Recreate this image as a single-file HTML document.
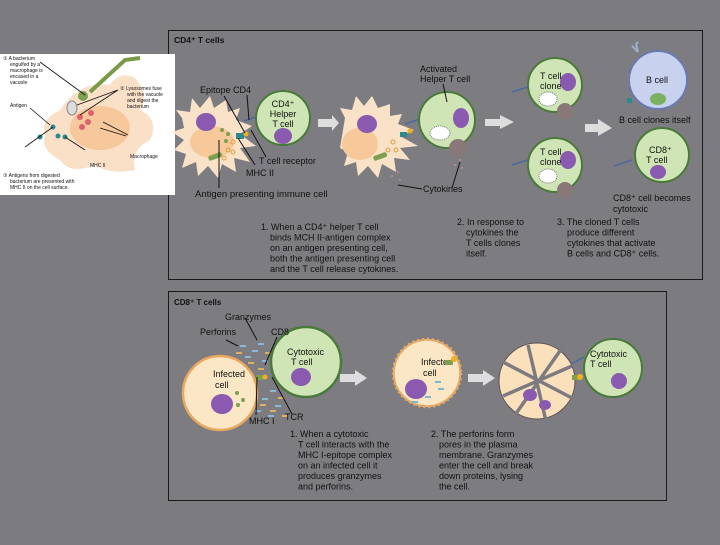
<!DOCTYPE html>
<html><head><meta charset="utf-8"><style>
body{margin:0;width:720px;height:540px;background:#7c7b80;overflow:hidden}
text{font-family:"Liberation Sans",sans-serif;fill:#111}
</style></head><body>
<svg width="720" height="540" viewBox="0 0 720 540" xmlns="http://www.w3.org/2000/svg">
<rect width="720" height="540" fill="#7c7b80"/>
<!-- panels -->
<rect x="168.5" y="30.5" width="534" height="249" fill="#7d7c81" stroke="#1a1a1a" stroke-width="1"/>
<rect x="168.5" y="291.5" width="498" height="209" fill="#7d7c81" stroke="#1a1a1a" stroke-width="1"/>
<text x="174" y="43" font-size="8.5" font-weight="bold">CD4⁺ T cells</text>
<text x="174" y="305" font-size="8" font-weight="bold">CD8⁺ T cells</text>

<!-- inset -->
<rect x="0" y="54" width="175" height="141" fill="#fff"/>
<path d="M60 110 Q80 80 110 85 Q120 70 135 78 Q150 95 140 110 Q160 120 150 140 Q130 150 135 170 Q110 175 95 165 Q70 175 60 160 Q40 150 45 135 Q40 120 60 110Z" fill="#fbe0c8"/>
<ellipse cx="100" cy="128" rx="30" ry="22" fill="#f7c89c"/>
<path d="M90 92 L125 60 L140 58" stroke="#7a9a4a" stroke-width="4" fill="none"/>
<circle cx="83" cy="96" r="5" fill="#7aa050"/>
<ellipse cx="72" cy="108" rx="5" ry="7" fill="#ddd" stroke="#888"/>
<circle cx="80" cy="117" r="3" fill="#e06070"/><circle cx="88" cy="122" r="3" fill="#e06070"/><circle cx="82" cy="127" r="3" fill="#e06070"/><circle cx="91" cy="113" r="3" fill="#e06070"/>
<circle cx="53" cy="127" r="2.5" fill="#2a8a90"/><circle cx="40" cy="137" r="2.5" fill="#2a8a90"/><circle cx="58" cy="136" r="2.5" fill="#2a8a90"/><circle cx="65" cy="137" r="2.5" fill="#2a8a90"/>
<g stroke="#111" stroke-width="0.8" fill="none"><path d="M40 62 L85 95"/><path d="M118 90 L77 105 M118 90 L80 115"/><path d="M30 108 L50 125"/><path d="M53 127 L25 147"/><path d="M100 128 L126 136"/><path d="M65 137 L85 150"/><path d="M128 135 L103 122"/></g>
<g font-size="5" fill="#222"><text x="3" y="60">① A bacterium</text><text x="10" y="66">engulfed by a</text><text x="10" y="72">macrophage is</text><text x="10" y="78">encased in a</text><text x="10" y="84">vacuole</text>
<text x="120" y="90">② Lysosomes fuse</text><text x="127" y="96">with the vacuole</text><text x="127" y="102">and digest the</text><text x="127" y="108">bacterium</text>
<text x="10" y="107">Antigen</text><text x="130" y="158">Macrophage</text><text x="90" y="167">MHC II</text>
<text x="3" y="177">③ Antigens from digested</text><text x="10" y="183">bacterium are presented with</text><text x="10" y="189">MHC II on the cell surface.</text></g>

<!-- APC 1 -->
<path d="M182 118 L176 110 L190 112 L192 98 L200 108 L210 96 L214 108 L226 100 L228 112 L240 108 L236 120 L252 126 L240 134 L256 146 L240 148 L250 162 L234 158 L236 172 L222 164 L218 178 L208 166 L198 176 L196 162 L182 168 L186 154 L174 150 L184 140 L172 132 L184 128Z" fill="#f9e2c8"/>
<ellipse cx="212" cy="142" rx="22" ry="16" fill="#f6c89a"/>
<ellipse cx="206" cy="122" rx="10" ry="9" fill="#8a5ab0"/>
<rect x="208" y="154" width="14" height="5" rx="2" fill="#7aa050" transform="rotate(-20 215 156)"/>
<g fill="#7aa050"><circle cx="222" cy="130" r="2"/><circle cx="228" cy="134" r="2"/><circle cx="226" cy="141" r="2"/></g>
<g fill="none" stroke="#e0a040"><circle cx="233" cy="142" r="2"/><circle cx="228" cy="150" r="2"/><circle cx="233" cy="152" r="2"/><circle cx="224" cy="158" r="2"/></g>
<rect x="236" y="133" width="8" height="6" fill="#2a8a90"/><circle cx="246" cy="134" r="2.5" fill="#f0b020"/>
<line x1="244" y1="121" x2="256" y2="117" stroke="#4a6aa0" stroke-width="1.5"/>
<circle cx="283" cy="118" r="27" fill="#cfe5b6" stroke="#4a7a3a" stroke-width="2"/>
<ellipse cx="283" cy="136" rx="9" ry="8" fill="#8a5ab0"/>
<text x="283" y="107" font-size="9" text-anchor="middle">CD4⁺</text><text x="283" y="117" font-size="9" text-anchor="middle">Helper</text><text x="283" y="127" font-size="9" text-anchor="middle">T cell</text>
<g stroke="#111" stroke-width="1" fill="none"><path d="M224 96 L245 133"/><path d="M247 95 L249 120"/><path d="M251 130 L266 157"/><path d="M238 138 L255 165"/><path d="M219 140 L219 188"/></g>
<text x="200" y="93" font-size="9">Epitope  CD4</text>
<text x="259" y="164" font-size="9">T cell receptor</text>
<text x="246" y="176" font-size="9">MHC II</text>
<text x="195" y="197" font-size="9.5">Antigen presenting immune cell</text>
<polygon points="318,119 332,119 332,115 339,123 332,131 332,127 318,127" fill="#ddd"/>

<!-- APC 2 -->
<path d="M345 118 L340 108 L352 110 L356 96 L364 106 L372 96 L378 108 L390 104 L390 116 L402 114 L398 124 L414 130 L400 136 L418 146 L400 148 L410 160 L394 158 L396 172 L382 164 L378 178 L368 166 L358 176 L356 162 L344 166 L348 152 L340 148 Z" fill="#f9e2c8"/>
<ellipse cx="360" cy="144" rx="18" ry="16" fill="#f6c89a"/>
<ellipse cx="367" cy="124" rx="10" ry="9" fill="#8a5ab0"/>
<rect x="373" y="154" width="14" height="5" rx="2" fill="#7aa050" transform="rotate(-20 380 156)"/>
<g fill="none" stroke="#e0a040"><circle cx="393" cy="142" r="2"/><circle cx="388" cy="150" r="2"/><circle cx="396" cy="150" r="2"/></g>
<rect x="400" y="132" width="7" height="5" fill="#2a8a90"/><circle cx="410" cy="131" r="2.5" fill="#f0b020"/>
<line x1="405" y1="124" x2="420" y2="119" stroke="#4a6aa0" stroke-width="1.5"/>
<circle cx="447" cy="120" r="28" fill="#cfe5b6" stroke="#4a7a3a" stroke-width="2"/>
<ellipse cx="461" cy="118" rx="8" ry="10" fill="#8a5ab0"/>
<ellipse cx="440" cy="133" rx="10" ry="7" fill="#fff" stroke="#777" stroke-dasharray="1,1"/>
<circle cx="458" cy="148" r="9" fill="#8a7878"/>
<g fill="#c09090"><circle cx="460" cy="160" r="1"/><circle cx="455" cy="165" r="1"/><circle cx="462" cy="168" r="1"/><circle cx="398" cy="172" r="1"/><circle cx="392" cy="176" r="1"/><circle cx="400" cy="180" r="1"/></g>
<text x="420" y="72" font-size="9">Activated</text><text x="420" y="82" font-size="9">Helper T cell</text>
<g stroke="#111" stroke-width="1" fill="none"><path d="M443 84 L447 102"/><path d="M460 162 L452 188"/><path d="M398 185 L422 189"/></g>
<text x="423" y="192" font-size="9">Cytokines</text>
<polygon points="485,119 500,119 500,115 514,122 500,129 500,126 485,126" fill="#ddd"/>

<!-- clones -->
<g>
<circle cx="555" cy="85" r="27" fill="#cfe5b6" stroke="#4a7a3a" stroke-width="2"/>
<ellipse cx="568" cy="82" rx="8" ry="9" fill="#8a5ab0"/><ellipse cx="548" cy="99" rx="9" ry="7" fill="#fff" stroke="#777" stroke-dasharray="1,1"/>
<circle cx="565" cy="111" r="8" fill="#8a7878"/>
<line x1="512" y1="92" x2="528" y2="87" stroke="#4a6aa0" stroke-width="1.5"/>
<text x="540" y="79" font-size="9">T cell</text><text x="540" y="89" font-size="9">clone</text>
</g>
<g>
<circle cx="555" cy="165" r="27" fill="#cfe5b6" stroke="#4a7a3a" stroke-width="2"/>
<ellipse cx="568" cy="160" rx="8" ry="9" fill="#8a5ab0"/><ellipse cx="548" cy="176" rx="9" ry="7" fill="#fff" stroke="#777" stroke-dasharray="1,1"/>
<circle cx="565" cy="190" r="8" fill="#8a7878"/>
<line x1="512" y1="165" x2="528" y2="160" stroke="#4a6aa0" stroke-width="1.5"/>
<text x="540" y="155" font-size="9">T cell</text><text x="540" y="165" font-size="9">clone</text>
</g>
<polygon points="585,124 598,124 598,119 612,128 598,136 598,132 585,132" fill="#ddd"/>
<circle cx="658" cy="80" r="29" fill="#c8d2ee" stroke="#6a7ab0" stroke-width="2"/>
<ellipse cx="658" cy="99" rx="8" ry="6" fill="#7ab060"/>
<path d="M638 52 L636 44 M638 52 L632 46 M636 44 L638 42" stroke="#9ab0d0" stroke-width="2"/>
<rect x="627" y="98" width="5" height="5" fill="#2a8a90"/>
<text x="646" y="83" font-size="9">B cell</text>
<text x="619" y="123" font-size="9">B cell clones itself</text>
<circle cx="662" cy="155" r="27" fill="#cfe5b6" stroke="#4a7a3a" stroke-width="2"/>
<ellipse cx="658" cy="172" rx="8" ry="7" fill="#8a5ab0"/>
<line x1="614" y1="166" x2="632" y2="160" stroke="#4a6aa0" stroke-width="1.5"/>
<text x="649" y="153" font-size="9">CD8⁺</text><text x="646" y="163" font-size="9">T cell</text>
<text x="613" y="201" font-size="9">CD8⁺ cell becomes</text><text x="613" y="212" font-size="9">cytotoxic</text>

<g font-size="9">
<text x="261" y="230">1. When a CD4⁺ helper T cell</text><text x="270" y="240.5">binds MCH II-antigen complex</text><text x="270" y="251">on an antigen presenting cell,</text><text x="270" y="261.5">both the antigen presenting cell</text><text x="270" y="272">and the T cell release cytokines.</text>
<text x="457" y="225">2. In response to</text><text x="466" y="235.5">cytokines the</text><text x="466" y="246">T cells clones</text><text x="466" y="256.5">itself.</text>
<text x="557" y="225">3. The cloned T cells</text><text x="567" y="235.5">produce different</text><text x="567" y="246">cytokines that activate</text><text x="567" y="256.5">B cells and CD8⁺ cells.</text>
</g>

<!-- bottom -->
<g fill="#8ab8d8"><rect x="240" y="345" width="6" height="2"/><rect x="252" y="350" width="6" height="2"/><rect x="245" y="356" width="6" height="2"/><rect x="258" y="343" width="6" height="2"/><rect x="262" y="360" width="6" height="2"/><rect x="270" y="390" width="6" height="2"/><rect x="262" y="398" width="6" height="2"/><rect x="275" y="405" width="6" height="2"/><rect x="255" y="410" width="6" height="2"/><rect x="268" y="415" width="6" height="2"/></g>
<g fill="#e0b060"><rect x="236" y="352" width="6" height="2"/><rect x="248" y="362" width="6" height="2"/><rect x="258" y="368" width="6" height="2"/><rect x="265" y="352" width="6" height="2"/><rect x="278" y="397" width="6" height="2"/><rect x="260" y="404" width="6" height="2"/><rect x="270" y="410" width="6" height="2"/><rect x="282" y="415" width="6" height="2"/></g>
<circle cx="220" cy="393" r="37" fill="#fbe6c6" stroke="#e8a860" stroke-width="2.5"/>
<ellipse cx="222" cy="404" rx="11" ry="10" fill="#8a5ab0"/>
<g fill="#7aa050"><circle cx="237" cy="393" r="2"/><circle cx="243" cy="400" r="2"/><circle cx="238" cy="405" r="2"/></g>
<text x="213" y="377" font-size="9">Infected</text><text x="215" y="388" font-size="9">cell</text>
<circle cx="306" cy="362" r="35" fill="#cfe5b6" stroke="#4a7a3a" stroke-width="2.5"/>
<ellipse cx="301" cy="377" rx="10" ry="9" fill="#8a5ab0"/>
<text x="287" y="355" font-size="9">Cytotoxic</text><text x="291" y="365" font-size="9">T cell</text>
<rect x="256" y="375" width="8" height="5" fill="#7aa050"/><circle cx="265" cy="377" r="2.5" fill="#f0b020"/>
<g stroke="#111" stroke-width="1" fill="none"><path d="M245 318 L257 340"/><path d="M226 340 L238 346"/><path d="M277 337 L265 365"/><path d="M257 377 L256 415"/><path d="M272 377 L292 414"/></g>
<text x="225" y="320" font-size="9">Granzymes</text><text x="200" y="335" font-size="9">Perforins</text><text x="271" y="335" font-size="9">CD8</text>
<text x="249" y="424" font-size="9">MHC I</text><text x="285" y="420" font-size="9">TCR</text>
<polygon points="340,374 355,374 355,370 367,378 355,386 355,382 340,382" fill="#ddd"/>
<circle cx="427" cy="373" r="34" fill="#fbe6c6" stroke="#e8a860" stroke-width="2.5" stroke-dasharray="2,3"/>
<circle cx="427" cy="373" r="33" fill="none" stroke="#e8a860" stroke-width="1.5"/>
<ellipse cx="416" cy="389" rx="11" ry="10" fill="#8a5ab0"/>
<g fill="#7ab8d0"><rect x="412" y="401" width="6" height="2"/><rect x="435" y="381" width="6" height="2"/><rect x="438" y="388" width="6" height="2"/><rect x="425" y="396" width="6" height="2"/></g>
<text x="421" y="365" font-size="9">Infected</text><text x="423" y="376" font-size="9">cell</text>
<rect x="445" y="360" width="7" height="5" fill="#7aa050"/><circle cx="454" cy="359" r="3" fill="#f0b020"/>
<polygon points="468,374 483,374 483,370 495,378 483,386 483,382 468,382" fill="#ddd"/>
<circle cx="537" cy="381" r="38" fill="#fbe0bc" stroke="#5a5050" stroke-width="1"/>
<g stroke="#7c7b80" stroke-width="3.5"><path d="M503 362 L572 398"/><path d="M528 345 L546 421"/><path d="M503 396 L572 366"/><path d="M515 415 L562 348"/></g>
<g fill="#8a5ab0"><ellipse cx="530" cy="395" rx="7" ry="6"/><ellipse cx="545" cy="405" rx="6" ry="5"/></g>
<rect x="572" y="375" width="7" height="5" fill="#7aa050"/><circle cx="580" cy="377" r="3" fill="#f0b020"/>
<line x1="571" y1="364" x2="584" y2="357" stroke="#4a6aa0" stroke-width="1.5"/>
<circle cx="613" cy="368" r="29" fill="#cfe5b6" stroke="#4a7a3a" stroke-width="2"/>
<ellipse cx="619" cy="381" rx="8" ry="8" fill="#8a5ab0"/>
<text x="590" y="357" font-size="9">Cytotoxic</text><text x="590" y="367" font-size="9">T cell</text>
<g font-size="9">
<text x="290" y="437">1. When a cytotoxic</text><text x="298" y="447.5">T cell interacts with the</text><text x="298" y="458">MHC I-epitope complex</text><text x="298" y="468.5">on an infected cell it</text><text x="298" y="479">produces granzymes</text><text x="298" y="489.5">and perforins.</text>
<text x="431" y="437">2. The perforins form</text><text x="439" y="447.5">pores in the plasma</text><text x="439" y="458">membrane. Granzymes</text><text x="439" y="468.5">enter the cell and break</text><text x="439" y="479">down proteins, lysing</text><text x="439" y="489.5">the cell.</text>
</g>
</svg>
</body></html>
